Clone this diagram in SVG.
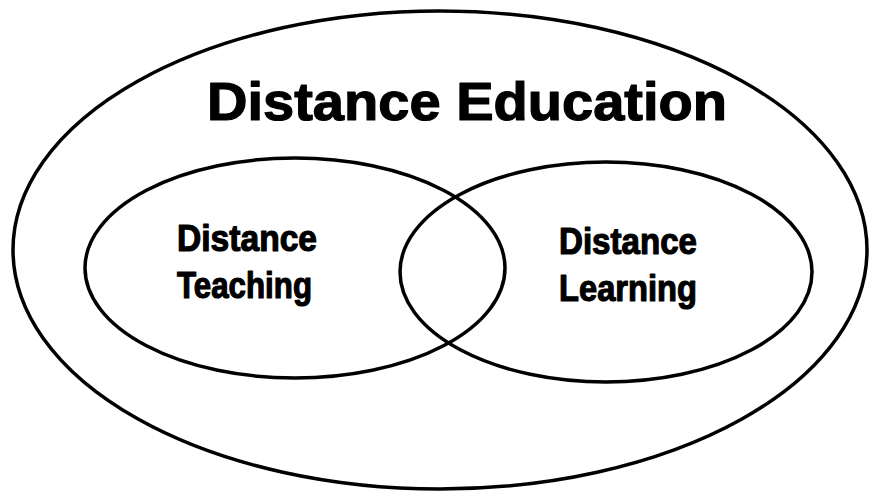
<svg xmlns="http://www.w3.org/2000/svg" width="872" height="497" viewBox="0 0 872 497">
<style>
.ring{fill:none;stroke:#000;stroke-width:3.5}
.t{font-family:"Liberation Sans",Arial,sans-serif;font-weight:bold;fill:#000;stroke:#000;stroke-width:1.2;stroke-linejoin:round}
</style>
<rect width="872" height="497" fill="#fff"/>
<g id="distance-education">
<ellipse class="ring" cx="440" cy="250" rx="427" ry="239"/>
<text class="t" x="207" y="120" font-size="53" textLength="520" lengthAdjust="spacingAndGlyphs">Distance Education</text>
</g>
<g id="distance-teaching">
<ellipse class="ring" cx="295" cy="268" rx="210" ry="110"/>
<text class="t" x="177" y="251" font-size="37" textLength="140" lengthAdjust="spacingAndGlyphs">Distance</text>
<text class="t" x="177" y="298" font-size="37" textLength="135" lengthAdjust="spacingAndGlyphs">Teaching</text>
</g>
<g id="distance-learning">
<ellipse class="ring" cx="606" cy="272" rx="206" ry="110"/>
<text class="t" x="559" y="254" font-size="37" textLength="138" lengthAdjust="spacingAndGlyphs">Distance</text>
<text class="t" x="559" y="301" font-size="37" textLength="138" lengthAdjust="spacingAndGlyphs">Learning</text>
</g>
<g id="connectors"/>
</svg>
